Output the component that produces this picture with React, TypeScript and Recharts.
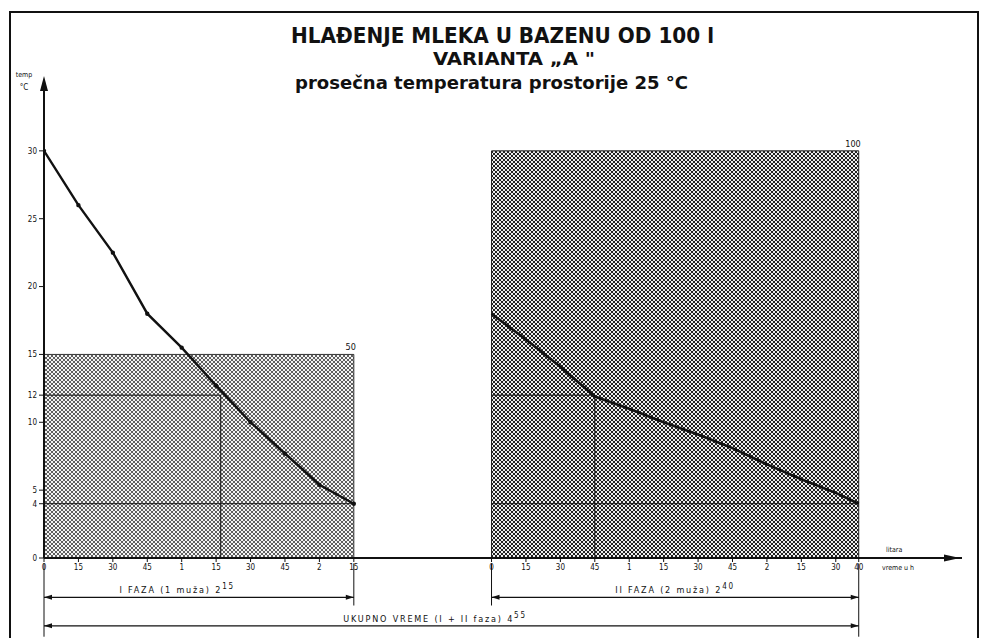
import { LineChart, Line, XAxis, YAxis, ReferenceArea, ReferenceLine, ReferenceDot } from 'recharts'

// offset (in axis minutes) where the second phase is drawn
const OFF = 195

const leftMinutes = [0, 15, 30, 45, 60, 75, 90, 105, 120, 135]
const leftTemps = [30, 26, 22.5, 18, 15.5, 12.7, 10, 7.7, 5.4, 4]
const rightMinutes = [0, 15, 30, 45, 60, 75, 90, 105, 120, 135, 150, 160]
const rightTemps = [18, 16.1, 14.1, 11.9, 11.0, 10.0, 9.1, 8.1, 6.9, 5.8, 4.8, 4.0]

const leftTickLabels = ['0', '15', '30', '45', '1', '15', '30', '45', '2', '15']
const rightTickLabels = ['0', '15', '30', '45', '1', '15', '30', '45', '2', '15', '30', '40']
const tempTicks = [0, 4, 5, 10, 12, 15, 20, 25, 30]

const leftVolume = '50'
const rightVolume = '100'
const leftTop = 15
const rightTop = 30
const targetTemp = 12
const endTemp = 4
const leftCross = 77
const rightCross = 45

const leftData = leftMinutes.map((m, i) => ({ x: m, temp: leftTemps[i] }))
const rightData = rightMinutes.map((m, i) => ({ x: OFF + m, temp: rightTemps[i] }))
const leftEnd = leftMinutes[leftMinutes.length - 1]
const rightEnd = rightMinutes[rightMinutes.length - 1]

const xTicks = [...leftMinutes, ...rightMinutes.map((m) => OFF + m)]
const xLabels = new Map<number, string>()
leftMinutes.forEach((m, i) => xLabels.set(m, leftTickLabels[i]))
rightMinutes.forEach((m, i) => xLabels.set(OFF + m, rightTickLabels[i]))

const FONT = '"DejaVu Sans Condensed", "Liberation Sans Narrow", sans-serif'
const INK = '#111'

const dimShape = (label: string, sup: string, frac: number) => (p: any) => {
  const { x1, y1, x2 } = p
  const tx = x1 + (x2 - x1) * frac
  return (
    <g>
      <line x1={x1} y1={y1} x2={x2} y2={y1} stroke={INK} strokeWidth={1.2} />
      <polygon points={`${x1},${y1} ${x1 + 8},${y1 - 2.5} ${x1 + 8},${y1 + 2.5}`} fill={INK} />
      <polygon points={`${x2},${y1} ${x2 - 8},${y1 - 2.5} ${x2 - 8},${y1 + 2.5}`} fill={INK} />
      <text x={tx} y={y1 - 4} textAnchor="middle" fontSize={9} fill={INK} fontFamily={FONT} letterSpacing={1.8}>
        {label}
        <tspan dy={-4} fontSize={8}>{sup}</tspan>
      </text>
    </g>
  )
}

const volLabel = (txt: string) => (p: any) => (
  <text x={p.cx + 2} y={p.cy - 4} textAnchor="end" fontSize={9} fill={INK} fontFamily={FONT}>
    {txt}
  </text>
)

export default function App() {
  return (
    <div style={{ position: 'absolute', left: 0, top: 0, background: '#fff' }}>
      <LineChart
        width={983}
        height={638}
        margin={{ top: 83, right: 21, bottom: 60, left: 14 }}
        style={{ fontFamily: FONT }}
      >
        <defs>
          <pattern id="hatchL" width="4" height="4" patternUnits="userSpaceOnUse">
            <rect width="4" height="4" fill="#f4f4f4" />
            <path d="M-1,-1 L5,5 M5,-1 L-1,5" stroke="#444" strokeWidth="0.85" />
          </pattern>
          <pattern id="hatchR" width="4" height="4" patternUnits="userSpaceOnUse">
            <rect width="4" height="4" fill="#eee" />
            <path d="M-1,-1 L5,5 M5,-1 L-1,5" stroke="#222" strokeWidth="1" />
          </pattern>
        </defs>

        <rect x={10} y={12} width={968} height={640} fill="none" stroke={INK} strokeWidth={2} />
        <text x={291} y={43} textLength={423} lengthAdjust="spacingAndGlyphs" fontSize={21} fontWeight="bold" fill={INK} fontFamily={FONT}>
          HLAĐENJE  MLEKA  U  BAZENU  OD  100 l
        </text>
        <text x={433} y={65} textLength={162} lengthAdjust="spacingAndGlyphs" fontSize={18} fontWeight="bold" fill={INK} fontFamily={FONT}>
          VARIANTA „A "
        </text>
        <text x={295} y={89} textLength={393} lengthAdjust="spacingAndGlyphs" fontSize={18} fontWeight="bold" fill={INK} fontFamily={FONT}>
          prosečna  temperatura  prostorije  25 °C
        </text>
        <text x={24} y={77} textAnchor="middle" fontSize={7} fill={INK}>temp</text>
        <text x={24} y={90} textAnchor="middle" fontSize={8} fill={INK}>°C</text>
        <text x={886} y={552} fontSize={7} fill={INK}>litara</text>
        <text x={882} y={570} fontSize={7} fill={INK}>vreme u h</text>

        <XAxis
          type="number"
          dataKey="x"
          domain={[0, 400]}
          ticks={xTicks}
          interval={0}
          height={20}
          allowDataOverflow
          tickFormatter={(v: number) => xLabels.get(v) ?? ''}
          axisLine={{ stroke: INK, strokeWidth: 2 }}
          tickLine={{ stroke: INK }}
          tickSize={4}
          tick={{ fontSize: 8, fill: INK }}
        />
        <YAxis
          type="number"
          domain={[0, 35]}
          ticks={tempTicks}
          interval={0}
          width={30}
          axisLine={{ stroke: INK, strokeWidth: 2 }}
          tickLine={{ stroke: INK }}
          tickSize={5}
          tick={{ fontSize: 8, fill: INK }}
        />

        <ReferenceArea x1={0} x2={leftEnd} y1={0} y2={leftTop} fill="url(#hatchL)" fillOpacity={1} stroke="#333" strokeWidth={1} />
        <ReferenceArea x1={OFF} x2={OFF + rightEnd} y1={0} y2={rightTop} fill="url(#hatchR)" fillOpacity={1} stroke="#222" strokeWidth={1} />

        <ReferenceLine segment={[{ x: 0, y: targetTemp }, { x: leftCross, y: targetTemp }]} stroke={INK} strokeWidth={1} />
        <ReferenceLine segment={[{ x: leftCross, y: targetTemp }, { x: leftCross, y: 0 }]} stroke={INK} strokeWidth={1} />
        <ReferenceLine segment={[{ x: 0, y: endTemp }, { x: leftEnd, y: endTemp }]} stroke={INK} strokeWidth={1} />
        <ReferenceLine segment={[{ x: OFF, y: targetTemp }, { x: OFF + rightCross, y: targetTemp }]} stroke={INK} strokeWidth={1} />
        <ReferenceLine segment={[{ x: OFF + rightCross, y: targetTemp }, { x: OFF + rightCross, y: 0 }]} stroke={INK} strokeWidth={1} />
        <ReferenceLine segment={[{ x: OFF, y: endTemp }, { x: OFF + rightEnd, y: endTemp }]} stroke={INK} strokeWidth={1} />

        <ReferenceDot x={leftEnd} y={leftTop} r={0} ifOverflow="visible" shape={volLabel(leftVolume)} />
        <ReferenceDot x={OFF + rightEnd} y={rightTop} r={0} ifOverflow="visible" shape={volLabel(rightVolume)} />

        {/* extension + dimension lines below the axis */}
        <ReferenceLine ifOverflow="visible" segment={[{ x: 0, y: -0.4 }, { x: 0, y: -5.8 }]} stroke={INK} strokeWidth={1} />
        <ReferenceLine ifOverflow="visible" segment={[{ x: leftEnd, y: -0.4 }, { x: leftEnd, y: -3.5 }]} stroke={INK} strokeWidth={1} />
        <ReferenceLine ifOverflow="visible" segment={[{ x: OFF, y: -0.4 }, { x: OFF, y: -3.5 }]} stroke={INK} strokeWidth={1} />
        <ReferenceLine ifOverflow="visible" segment={[{ x: OFF + rightEnd, y: -0.4 }, { x: OFF + rightEnd, y: -5.8 }]} stroke={INK} strokeWidth={1} />
        <ReferenceLine ifOverflow="visible" segment={[{ x: 0, y: -2.9 }, { x: leftEnd, y: -2.9 }]} shape={dimShape('I FAZA (1 muža) 2', '15', 0.43)} />
        <ReferenceLine ifOverflow="visible" segment={[{ x: OFF, y: -2.9 }, { x: OFF + rightEnd, y: -2.9 }]} shape={dimShape('II FAZA (2 muža) 2', '40', 0.5)} />
        <ReferenceLine ifOverflow="visible" segment={[{ x: 0, y: -5.0 }, { x: OFF + rightEnd, y: -5.0 }]} shape={dimShape('UKUPNO VREME (I + II faza) 4', '55', 0.48)} />

        <ReferenceDot
          x={0}
          y={35}
          r={0}
          ifOverflow="visible"
          shape={(p: any) => <polygon points={`${p.cx},${p.cy - 7} ${p.cx - 4},${p.cy + 8} ${p.cx + 4},${p.cy + 8}`} fill={INK} />}
        />
        <ReferenceDot
          x={400}
          y={0}
          r={0}
          ifOverflow="visible"
          shape={(p: any) => <polygon points={`${p.cx - 2},${p.cy} ${p.cx - 18},${p.cy - 3.5} ${p.cx - 18},${p.cy + 3.5}`} fill={INK} />}
        />

        <Line
          data={leftData}
          dataKey="temp"
          type="linear"
          stroke={INK}
          strokeWidth={2.4}
          dot={{ r: 1, fill: INK, stroke: INK }}
          isAnimationActive={false}
        />
        <Line
          data={rightData}
          dataKey="temp"
          type="linear"
          stroke={INK}
          strokeWidth={2.6}
          dot={false}
          isAnimationActive={false}
        />
      </LineChart>
    </div>
  )
}
